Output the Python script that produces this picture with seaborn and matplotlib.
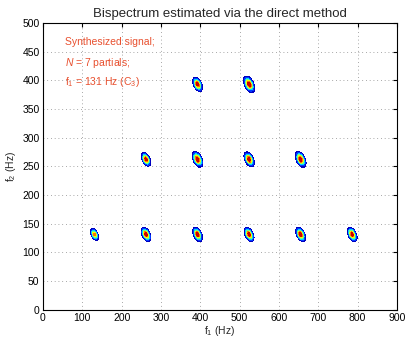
import numpy as np
import matplotlib
matplotlib.use("Agg")
import matplotlib.pyplot as plt
import seaborn as sns

# ---- data ----
f0 = 131  # fundamental (Hz)
peak_f1 = [131, 262, 393, 524, 655, 786,
           262, 393, 524, 655,
           393, 524]
peak_f2 = [131, 131, 131, 131, 131, 131,
           262, 262, 262, 262,
           393, 393]
peak_amp = [0.85, 1.0, 1.0, 1.0, 1.0, 1.0,
            1.0, 1.0, 1.0, 1.0,
            1.0, 1.0]
peak_size = [0.85, 1.0, 1.0, 1.0, 1.0, 1.0,
             0.95, 1.1, 1.05, 1.1,
             1.0, 1.15]
x_ticks = [0, 100, 200, 300, 400, 500, 600, 700, 800, 900]
y_ticks = [0, 50, 100, 150, 200, 250, 300, 350, 400, 450, 500]
title = "Bispectrum estimated via the direct method"
notes = ["Synthesized signal;", "$N$ = 7 partials;", "f$_1$ = 131 Hz (C$_3$)"]
note_y = [467, 430, 397]

sns.set_style("white")
plt.rcParams["font.family"] = ["Liberation Sans", "DejaVu Sans"]
plt.rcParams["mathtext.fontset"] = "custom"
plt.rcParams["mathtext.rm"] = "Liberation Sans"
plt.rcParams["mathtext.it"] = "Liberation Sans:italic"

fig = plt.figure(figsize=(4.05, 3.37), dpi=100)
ax = fig.add_axes([43 / 405, 1 - 309.5 / 337, (397 - 43) / 405, (309.5 - 23) / 337])

# field built from the peak list (tilted elliptical peaks)
f1 = np.arange(0, 901, 1.0)
f2 = np.arange(0, 501, 1.0)
F1, F2 = np.meshgrid(f1, f2)
Z = np.zeros_like(F1)
s_major, s_minor = 7.0, 4.3
for a, b, amp, sz in zip(peak_f1, peak_f2, peak_amp, peak_size):
    u = ((F1 - a) - (F2 - b)) / np.sqrt(2)
    v = ((F1 - a) + (F2 - b)) / np.sqrt(2)
    Z += amp * np.exp(-0.5 * ((u / (s_major * sz)) ** 2 + (v / (s_minor * sz)) ** 2))

levels = [0.1, 0.2, 0.33, 0.47, 0.6, 0.74, 0.88, 1.0]
ax.contourf(F1, F2, Z, levels=levels, cmap="jet")

ax.set_xlim(0, 900)
ax.set_ylim(0, 500)
ax.set_xticks(x_ticks)
ax.set_yticks(y_ticks)
ax.grid(True, linestyle=(0, (1, 3.5)), color="#8a8a8a", linewidth=0.6)
ax.tick_params(direction="in", length=3, width=0.8, top=True, right=True,
               labelsize=7.5, pad=2.5, colors="black")
for sp in ax.spines.values():
    sp.set_color("black")
    sp.set_linewidth(0.8)

ax.set_xlabel("f$_1$ (Hz)", fontsize=7.5, labelpad=0.5)
ax.set_ylabel("f$_2$ (Hz)", fontsize=7.5, labelpad=3)
ax.set_title(title, fontsize=9.5, pad=4)

for t, y in zip(notes, note_y):
    ax.text(56, y, t, color="#E8502F", fontsize=7.5, va="center", ha="left")

fig.savefig("out.png", dpi=100)
